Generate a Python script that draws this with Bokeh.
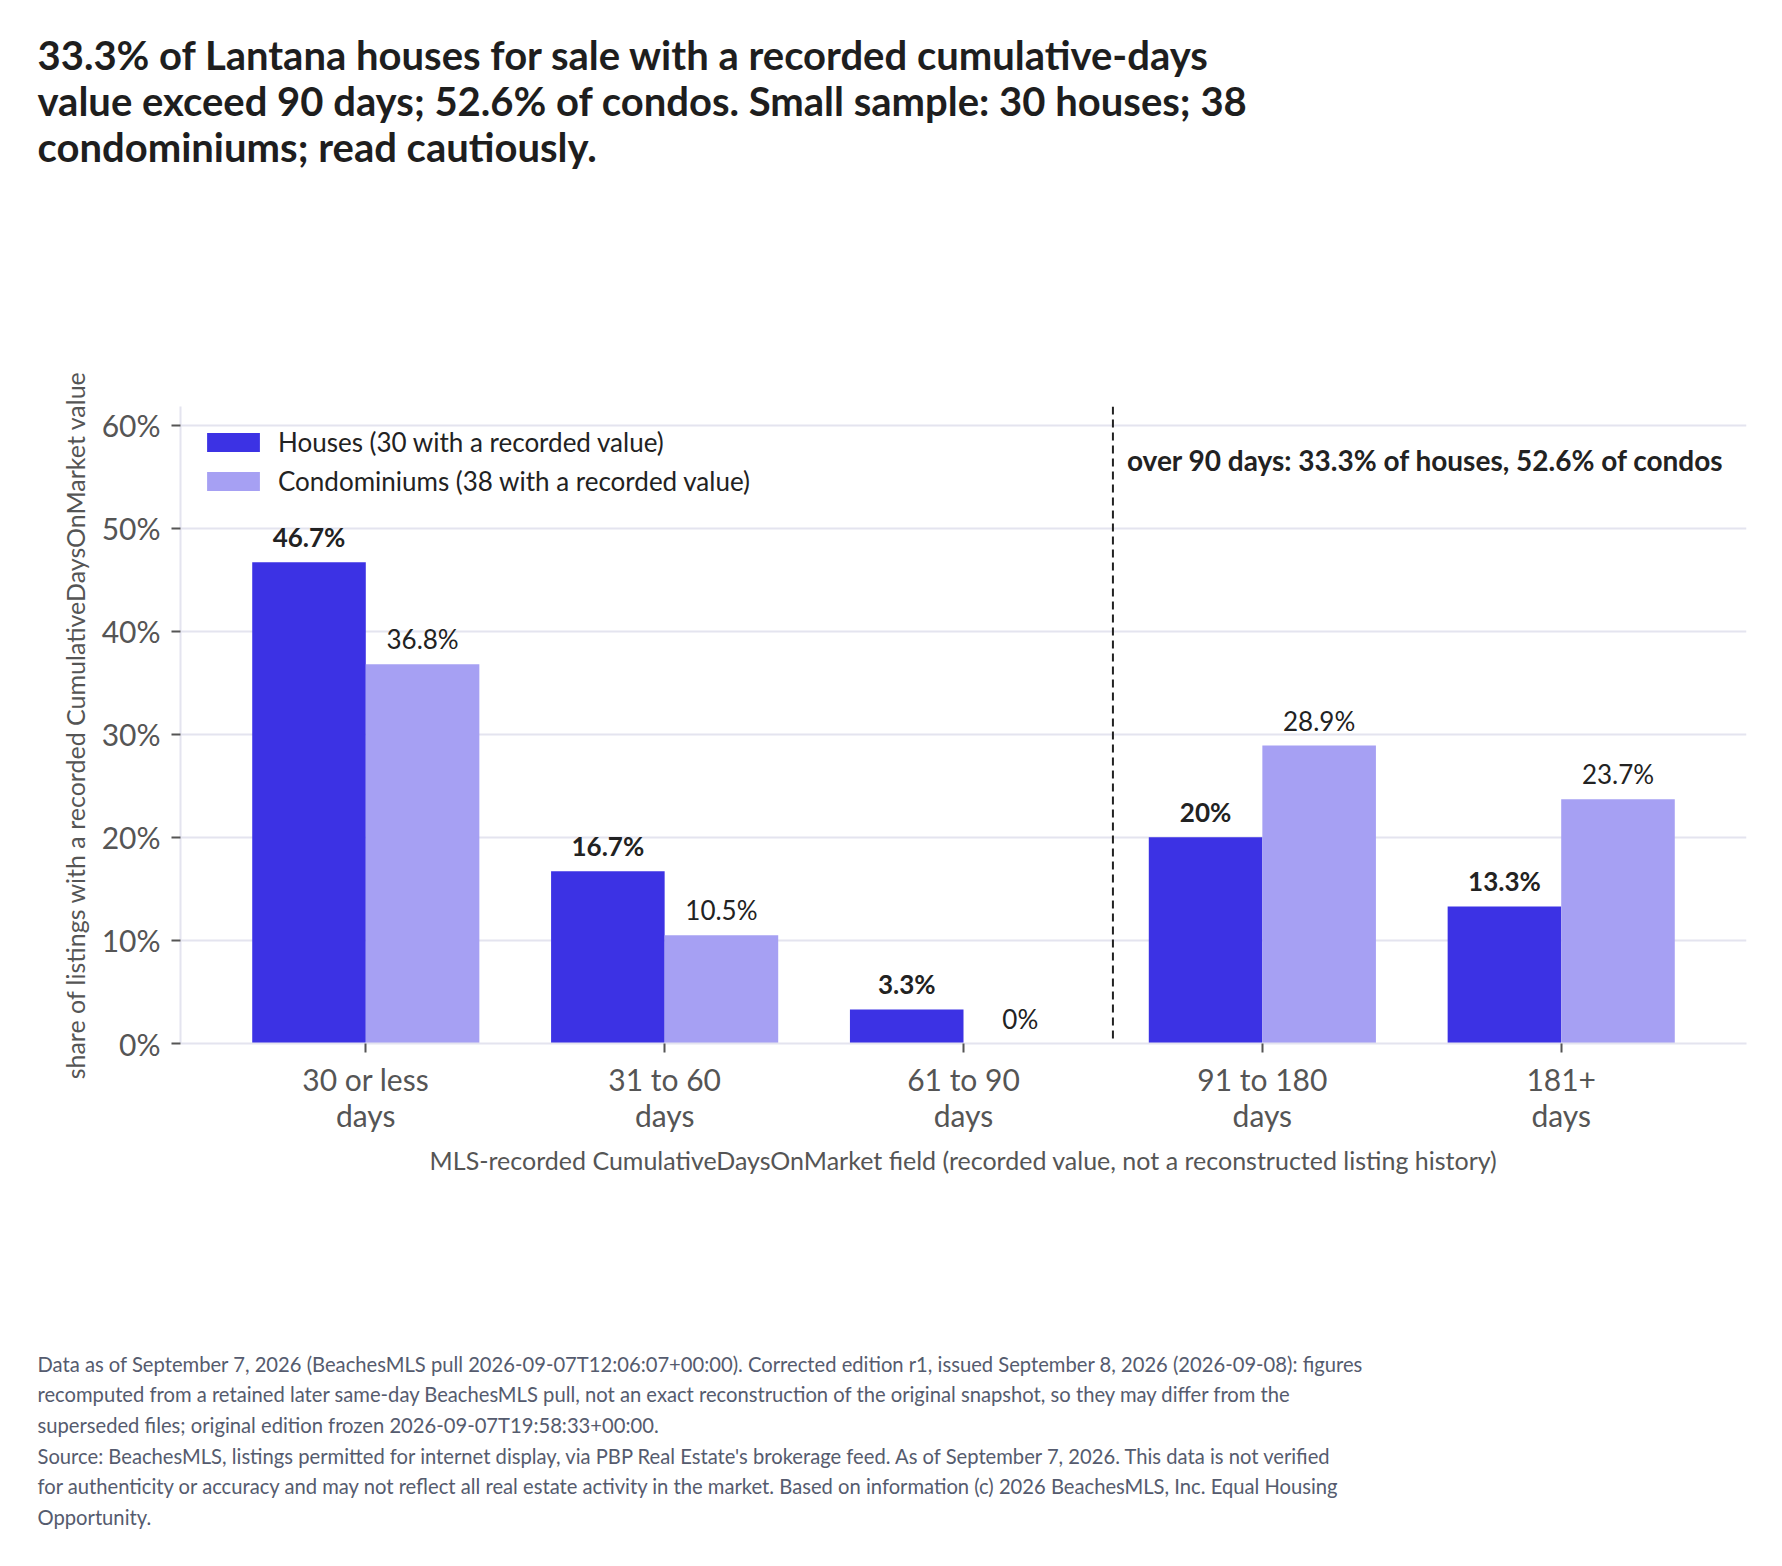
from bokeh.plotting import figure
from bokeh.models import Range1d, FixedTicker, Span, Label, Legend, LegendItem, Title
from bokeh.embed import file_html
from bokeh.resources import INLINE
from bokeh.core.properties import value

# ---------------- data ----------------
categories = ["30 or less\ndays", "31 to 60\ndays", "61 to 90\ndays", "91 to 180\ndays", "181+\ndays"]
houses = [46.7, 16.7, 3.3, 20.0, 13.3]
condos = [36.8, 10.5, 0.0, 28.9, 23.7]
y_ticks = [0, 10, 20, 30, 40, 50, 60]
y_tick_labels = ["0%", "10%", "20%", "30%", "40%", "50%", "60%"]
house_name = "Houses (30 with a recorded value)"
condo_name = "Condominiums (38 with a recorded value)"
threshold_text = "over 90 days: 33.3% of houses, 52.6% of condos"
x_title = "MLS-recorded CumulativeDaysOnMarket field (recorded value, not a reconstructed listing history)"
y_title = "share of listings with a recorded CumulativeDaysOnMarket value"
title_lines = [
    "33.3% of Lantana houses for sale with a recorded cumulative-days",
    "value exceed 90 days; 52.6% of condos. Small sample: 30 houses; 38",
    "condominiums; read cautiously.",
]
footer_lines = [
    "Data as of September 7, 2026 (BeachesMLS pull 2026-09-07T12:06:07+00:00). Corrected edition r1, issued September 8, 2026 (2026-09-08): figures",
    "recomputed from a retained later same-day BeachesMLS pull, not an exact reconstruction of the original snapshot, so they may differ from the",
    "superseded files; original edition frozen 2026-09-07T19:58:33+00:00.",
    "Source: BeachesMLS, listings permitted for internet display, via PBP Real Estate's brokerage feed. As of September 7, 2026. This data is not verified",
    "for authenticity or accuracy and may not reflect all real estate activity in the market. Based on information (c) 2026 BeachesMLS, Inc. Equal Housing",
    "Opportunity.",
]

# ---------------- layout / style ----------------
FONT = "Lato"
W, H = 1782, 1566
FL, FR, FT, FB = 180, 1746, 406, 1043          # frame edges in page pixels
X0, X1 = 0.38, 5.62
Y0, Y1 = 0.0, 61.8
HOUSE_COLOR = "#3c32e4"
CONDO_COLOR = "#a6a0f3"
DARK = "#222222"
GRAY = "#555555"
GRID = "#e4e4ef"
BAR_W = 0.38


def yd(py):
    return Y0 + (FB - py) * (Y1 - Y0) / (FB - FT)


x_pos = list(range(1, len(categories) + 1))
hx = [x - BAR_W / 2 for x in x_pos]
cx = [x + BAR_W / 2 for x in x_pos]
fmt = lambda v: f"{v:g}%"

p = figure(width=W, height=H, x_range=Range1d(X0, X1), y_range=Range1d(Y0, Y1),
           output_backend="svg", toolbar_location=None, title=None,
           min_border_left=FL, min_border_right=W - FR, min_border_top=FT, min_border_bottom=H - FB)
p.outline_line_color = None
p.xgrid.grid_line_color = None
p.ygrid.grid_line_color = GRID
p.ygrid.grid_line_width = 2

r_h = p.vbar(x=hx, top=houses, width=BAR_W, bottom=0, fill_color=HOUSE_COLOR, line_color=None)
r_c = p.vbar(x=cx, top=condos, width=BAR_W, bottom=0, fill_color=CONDO_COLOR, line_color=None)

p.text(x=hx, y=houses, text=[fmt(v) for v in houses], text_font=value(FONT), text_font_style="bold",
       text_font_size="26px", text_color=DARK, text_align="center", text_baseline="alphabetic", y_offset=-25)
p.text(x=cx, y=condos, text=[fmt(v) for v in condos], text_font=value(FONT),
       text_font_size="26px", text_color=DARK, text_align="center", text_baseline="alphabetic", y_offset=-25)

p.add_layout(Span(location=3.5, dimension="height", line_color=DARK, line_dash="8 5", line_width=2))
p.add_layout(Label(x=3.5, y=yd(459), x_offset=14, text=threshold_text, text_font=FONT, text_font_style="bold",
                   text_font_size="28px", text_color=DARK, text_baseline="alphabetic"))

legend = Legend(items=[LegendItem(label=house_name, renderers=[r_h]),
                       LegendItem(label=condo_name, renderers=[r_c])],
                location="top_left", margin=20, padding=0, spacing=7,
                glyph_width=66, glyph_height=24, label_height=24, label_standoff=12,
                label_text_font=FONT, label_text_font_size="26px", label_text_color=DARK,
                background_fill_alpha=0, border_line_color=None)
p.add_layout(legend)

p.xaxis.ticker = FixedTicker(ticks=x_pos)
p.xaxis.major_label_overrides = {x: c for x, c in zip(x_pos, categories)}
p.yaxis.ticker = FixedTicker(ticks=y_ticks)
p.yaxis.major_label_overrides = {t: l for t, l in zip(y_ticks, y_tick_labels)}

for ax in (p.xaxis, p.yaxis):
    ax.axis_line_color = GRID
    ax.axis_line_width = 2
    ax.major_tick_line_color = GRAY
    ax.major_tick_line_width = 2
    ax.major_tick_out = 9
    ax.major_tick_in = 0
    ax.minor_tick_line_color = None
    ax.major_label_text_font = FONT
    ax.major_label_text_font_size = "30px"
    ax.major_label_text_color = GRAY
    ax.axis_label_text_font = FONT
    ax.axis_label_text_font_style = "normal"
    ax.axis_label_text_color = GRAY
p.xaxis.major_label_standoff = 8
p.xaxis.major_label_text_line_height = 1.0
p.xaxis.axis_label = x_title
p.xaxis.axis_label_text_font_size = "25px"
p.xaxis.axis_label_standoff = 9
p.yaxis.major_label_standoff = 11
p.yaxis.axis_label = y_title
p.yaxis.axis_label_text_font_size = "25px"
p.yaxis.axis_label_standoff = 9

# ---------------- header (above the frame) ----------------
# spacer closest to the frame, then the headline on top
p.add_layout(Title(text=" ", text_font_size="10px", standoff=190, align="left"), "above")
p.add_layout(Title(text="\n".join(title_lines), align="left", offset=37 - FL, vertical_align="top",
                   standoff=61, text_font=FONT, text_font_style="bold", text_font_size="40px",
                   text_color="#1e1e1e", text_line_height=0.954), "above")

# ---------------- footer (below the x axis) ----------------
p.add_layout(Title(text=" ", text_font_size="10px", standoff=128, align="left"), "below")
p.add_layout(Title(text="\n".join(footer_lines), align="left", offset=37 - FL, vertical_align="bottom",
                   standoff=63, text_font=FONT, text_font_style="normal", text_font_size="20.2px",
                   text_color="#555b6e", text_line_height=1.279), "below")

open("out.html", "w").write(file_html(p, INLINE))
